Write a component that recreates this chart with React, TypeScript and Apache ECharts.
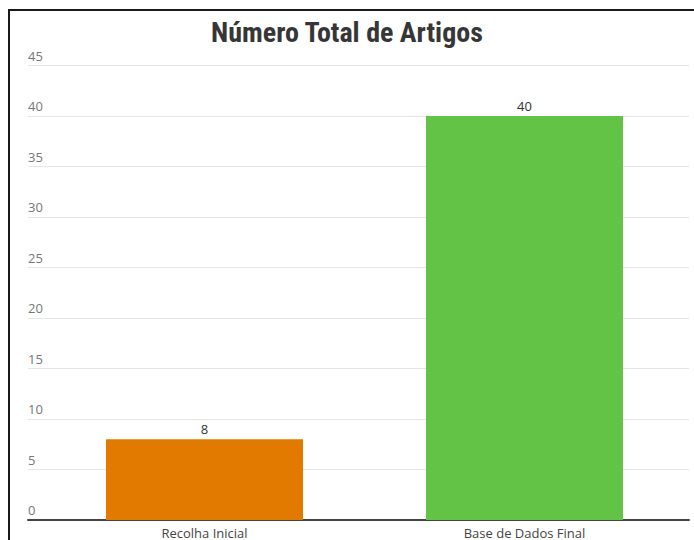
import React, { useEffect, useRef } from "react";
import * as echarts from "echarts";

const title = "Número Total de Artigos";
const categories = ["Recolha Inicial", "Base de Dados Final"];
const values = [8, 40];
const barColors = ["#E27A00", "#62C346"];
const yMin = 0;
const yMax = 45;
const yInterval = 5;

export default function App() {
  const ref = useRef<HTMLDivElement>(null);
  useEffect(() => {
    if (!ref.current) return;
    const chart = echarts.init(ref.current, undefined, { renderer: "svg" });
    const font = "'Open Sans', 'Noto Sans', sans-serif";
    chart.setOption({
      animation: false,
      backgroundColor: "#ffffff",
      title: {
        text: title,
        left: "center",
        top: 13,
        textStyle: {
          fontFamily: "'Liberation Sans Narrow', 'Roboto Condensed', sans-serif",
          fontSize: 28,
          fontWeight: "bold",
          color: "#363636",
        },
      },
      graphic: [
        {
          type: "rect",
          shape: { x: 9, y: 10, width: 720, height: 600 },
          style: { fill: "none", stroke: "#1a1a1a", lineWidth: 2 },
          silent: true,
        },
      ],
      grid: [
        { left: 28, right: 5, top: 65.5, bottom: 20 },
        { left: 44.5, right: 9.5, top: 65.5, bottom: 20 },
      ],
      xAxis: [
        {
          type: "category",
          gridIndex: 0,
          data: ["", ""],
          axisLine: { show: true, lineStyle: { color: "#444", width: 2 } },
          axisTick: { show: false },
          axisLabel: { show: false },
          splitLine: { show: false },
        },
        {
          type: "category",
          gridIndex: 1,
          data: categories,
          axisLine: { show: false },
          axisTick: { show: false },
          axisLabel: { color: "#444", fontSize: 13, fontFamily: font, margin: 6 },
          splitLine: { show: false },
        },
      ],
      yAxis: [
        {
          type: "value",
          gridIndex: 0,
          min: yMin,
          max: yMax,
          interval: yInterval,
          axisLine: { show: false },
          axisTick: { show: false },
          axisLabel: {
            inside: true,
            margin: 0,
            verticalAlign: "bottom",
            lineHeight: 16,
            padding: [0, 0, 2, 0],
            color: "#777",
            fontSize: 13,
            fontFamily: font,
          },
          splitLine: { lineStyle: { color: "#e6e6e6", width: 1 } },
        },
        {
          type: "value",
          gridIndex: 1,
          min: yMin,
          max: yMax,
          interval: yInterval,
          show: false,
          splitLine: { show: false },
        },
      ],
      series: [
        {
          type: "bar",
          xAxisIndex: 1,
          yAxisIndex: 1,
          barWidth: 197,
          data: values.map((v, i) => ({ value: v, itemStyle: { color: barColors[i] } })),
          label: {
            show: true,
            position: "top",
            distance: 4,
            color: "#333",
            fontSize: 13,
            fontFamily: font,
          },
        },
      ],
    });
    return () => chart.dispose();
  }, []);
  return (
    <div
      ref={ref}
      style={{ position: "absolute", left: 0, top: 0, width: 694, height: 540 }}
    />
  );
}
